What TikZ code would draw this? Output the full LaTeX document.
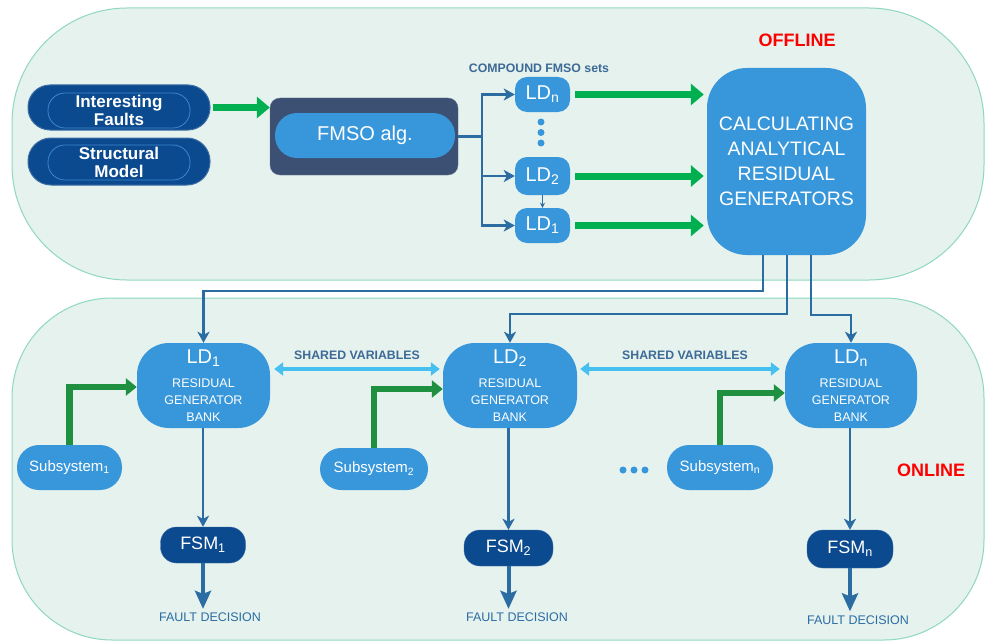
\documentclass[tikz,border=0pt]{standalone}
\usepackage{fontspec}
\setmainfont{Liberation Sans}
\usetikzlibrary{arrows.meta,calc}
\definecolor{panelfill}{HTML}{E6F2EE}
\definecolor{panelline}{HTML}{8ED8BE}
\definecolor{navy}{HTML}{0B4A8E}
\definecolor{navyline}{HTML}{3C86CF}
\definecolor{slate}{HTML}{3B5072}
\definecolor{lblue}{HTML}{3897DB}
\definecolor{connc}{HTML}{2B6CA3}
\definecolor{gtop}{HTML}{00B050}
\definecolor{gbot}{HTML}{1E9040}
\definecolor{cyanarr}{HTML}{45C0F0}
\definecolor{lbltxt}{HTML}{3D6A96}
\definecolor{redtxt}{HTML}{FF0000}
\newcommand{\fsz}[2]{\fontsize{#1}{#2}\selectfont}
\begin{document}
\begin{tikzpicture}[x=1pt,y=-1pt,
  panel/.style={draw=panelline, fill=panelfill, line width=1pt, inner sep=0pt},
  navybox/.style={fill=navy, draw=navy!80!white, line width=1pt, inner sep=0pt, minimum width=182pt},
  navyin/.style={draw=navyline, line width=0.8pt, text=white, align=center, inner sep=0pt, minimum width=142pt, minimum height=35pt, rounded corners=17pt, font=\fsz{17}{18}\bfseries},
  ldbox/.style={fill=lblue, text=white, inner sep=0pt, minimum width=55pt, rounded corners=12pt, font=\fsz{20}{22}},
  bank/.style={fill=lblue, text=white, align=center, inner sep=0pt, minimum height=85pt, rounded corners=32pt, font=\fsz{12.5}{17}},
  subsys/.style={fill=lblue, text=white, inner sep=0pt, font=\fsz{15}{17}},
  fsm/.style={fill=navy, draw=navy!80!white, text=white, inner sep=0pt, minimum height=36pt, rounded corners=16pt, font=\fsz{18}{20}},
  conn/.style={draw=connc, line width=2.5pt, -{Stealth[length=11pt,width=12pt,inset=3pt]}},
  thinconn/.style={draw=connc, line width=1pt, -{Stealth[length=5pt,width=5pt]}},
  fdarrow/.style={draw=connc, line width=4pt, -{Stealth[length=18pt,width=16pt,inset=3pt]}},
  gbig/.style={draw=gtop, line width=7pt, -{Triangle[length=13pt,width=21pt]}},
  gelbow/.style={draw=gbot, line width=6.5pt, -{Triangle[length=11pt,width=17pt]}},
  sharedarr/.style={draw=cyanarr, line width=4pt, {Triangle[length=9pt,width=13pt]}-{Triangle[length=9pt,width=13pt]}},
  smalllbl/.style={text=lbltxt, font=\fsz{12.3}{14}\bfseries, inner sep=0pt},
  fdlbl/.style={text=connc, font=\fsz{12.5}{14}, inner sep=0pt},
  modelbl/.style={text=redtxt, font=\fsz{18}{20}\bfseries, inner sep=0pt},
  dotc/.style={fill=lblue, draw=none}
]
\useasboundingbox (0,0) rectangle (986,642);
\fill[white] (0,0) rectangle (986,642);

% panels
\node[panel, minimum width=972pt, minimum height=272pt, rounded corners=115pt] (off) at (498,144) {};
\node[panel, minimum width=972pt, minimum height=342pt, rounded corners=100pt] (on) at (498,469) {};

\node[modelbl] (offl) at (797,40) {OFFLINE};
\node[modelbl] (onl) at (931,470) {ONLINE};

% inputs
\node[navybox, minimum height=45pt, rounded corners=22pt] (IF) at (119,107.5) {};
\node[navyin] (IFt) at (119,110.5) {Interesting\\Faults};
\node[navybox, minimum height=47pt, rounded corners=23pt] (SM) at (119,161.5) {};
\node[navyin] (SMt) at (119,162.5) {Structural\\Model};

% FMSO
\node[fill=slate, draw=slate!80!white, inner sep=0pt, minimum width=188pt, minimum height=77pt, rounded corners=10pt] (FM) at (364,136.5) {};
\node[fill=lblue, text=white, inner sep=0pt, minimum width=180pt, minimum height=45pt, rounded corners=22pt, font=\fsz{20}{22}] (FMi) at (365,135.5) {FMSO alg.};

\draw[gbig] (IF.east) ++(2,0) coordinate (gs) -- (FM.west |- gs);

% LD column
\node[smalllbl, font=\fsz{12.3}{13}\bfseries] (cmp) at (539,68) {COMPOUND FMSO sets};
\node[ldbox, minimum height=35pt] (LDn) at (542.5,94.5) {LD\textsubscript{n}};
\node[ldbox, minimum height=38pt] (LD2) at (542.5,176) {LD\textsubscript{2}};
\node[ldbox, minimum height=35pt] (LD1) at (542.5,225.5) {LD\textsubscript{1}};
\fill[dotc] (541,122) circle (3.5) (541,132.5) circle (3.5) (541,143) circle (3.5);

\draw[draw=connc, line width=2.5pt] (FM.east) -- ++(24,0) coordinate (br);
\draw[conn] (br) |- (LDn.west);
\draw[conn] (br) |- (LD2.west);
\draw[conn] (br) |- (LD1.west);
\draw[thinconn] (LD2.south) -- (LD1.north);

% calc box
\node[fill=lblue, text=white, align=center, inner sep=0pt, minimum width=159pt, minimum height=187pt, rounded corners=40pt, font=\fsz{19.5}{25}] (CALC) at (786.5,161.5) {CALCULATING\\ANALYTICAL\\RESIDUAL\\GENERATORS};

\draw[gbig] ([xshift=5pt]LDn.east) -- ([xshift=-3pt]CALC.west |- LDn.east);
\draw[gbig] ([xshift=5pt]LD2.east) -- ([xshift=-3pt]CALC.west |- LD2.east);
\draw[gbig] ([xshift=5pt]LD1.east) -- ([xshift=-3pt]CALC.west |- LD1.east);

% banks
\node[bank, minimum width=133pt] (B1) at (203.5,385.5) {{\fsz{20}{22}LD\textsubscript{1}}\\[7pt]RESIDUAL\\GENERATOR\\BANK};
\node[bank, minimum width=134pt] (B2) at (510,385.5) {{\fsz{20}{22}LD\textsubscript{2}}\\[7pt]RESIDUAL\\GENERATOR\\BANK};
\node[bank, minimum width=132pt] (Bn) at (851,385.5) {{\fsz{20}{22}LD\textsubscript{n}}\\[7pt]RESIDUAL\\GENERATOR\\BANK};

% calc -> banks
\draw[conn] ([xshift=-23.5pt]CALC.south) |- ([yshift=52pt]B1.north) -- (B1.north);
\draw[conn] ([xshift=0.5pt]CALC.south) |- ([yshift=29pt]B2.north) -- (B2.north);
\draw[conn] ([xshift=24.5pt]CALC.south) |- ([yshift=28pt]Bn.north) -- (Bn.north);

% shared variables
\draw[sharedarr] ([xshift=4pt,yshift=16.5pt]B1.east) -- ([xshift=-3pt,yshift=16.5pt]B2.west);
\draw[sharedarr] ([xshift=3pt,yshift=16.5pt]B2.east) -- ([xshift=-5pt,yshift=16.5pt]Bn.west);
\node[smalllbl] (sv1) at (357,355) {SHARED VARIABLES};
\node[smalllbl] (sv2) at (685,355) {SHARED VARIABLES};

% subsystems
\node[subsys, minimum width=105pt, minimum height=45pt, rounded corners=22pt] (S1) at (69.5,467.5) {Subsystem\textsubscript{1}};
\node[subsys, minimum width=108pt, minimum height=42pt, rounded corners=21pt] (S2) at (374,469) {Subsystem\textsubscript{2}};
\node[subsys, minimum width=106pt, minimum height=45pt, rounded corners=22pt] (Sn) at (720,467.5) {Subsystem\textsubscript{n}};
\fill[dotc] (623,470) circle (3.5) (634,470) circle (3.5) (645,470) circle (3.5);

\draw[gelbow] (S1.north) |- ([yshift=-1.5pt]B1.west);
\draw[gelbow] (S2.north) |- ([yshift=-3.5pt]B2.west);
\draw[gelbow] (Sn.north) |- ([yshift=-7.5pt]Bn.west);

% FSMs
\node[fsm, minimum width=85pt] (F1) at (203,545) {FSM\textsubscript{1}};
\node[fsm, minimum width=89pt] (F2) at (508.5,548) {FSM\textsubscript{2}};
\node[fsm, minimum width=86pt, minimum height=38pt] (Fn) at (850,549) {FSM\textsubscript{n}};

\draw[conn] (F1.north |- B1.south) -- (F1.north);
\draw[conn] (F2.north |- B2.south) -- (F2.north);
\draw[conn] (Fn.north |- Bn.south) -- (Fn.north);

\node[fdlbl] (D1) at (210,617.5) {FAULT DECISION};
\node[fdlbl] (D2) at (517,617.5) {FAULT DECISION};
\node[fdlbl] (Dn) at (858,620) {FAULT DECISION};

\draw[fdarrow] (F1.south) -- ([yshift=4pt]F1.south |- D1.north);
\draw[fdarrow] (F2.south) -- ([yshift=4pt]F2.south |- D2.north);
\draw[fdarrow] (Fn.south) -- ([yshift=4pt]Fn.south |- Dn.north);
\end{tikzpicture}
\end{document}
